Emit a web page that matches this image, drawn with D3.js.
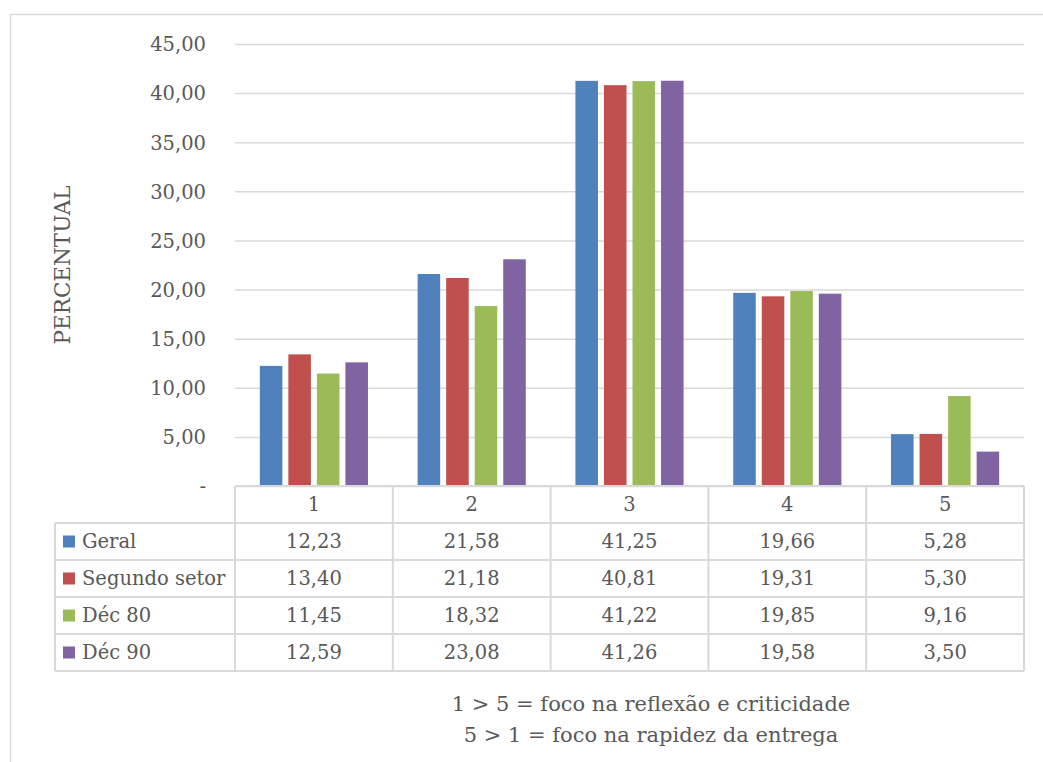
<!DOCTYPE html>
<html>
<head>
<meta charset="utf-8">
<script src="https://cdn.jsdelivr.net/npm/d3@7"></script>
<style>
  html, body { margin: 0; padding: 0; background: #fff; }
  svg { display: block; }
  text { font-family: "DejaVu Serif", "Liberation Serif", serif; fill: #595959; }
</style>
</head>
<body>
<svg id="chart" width="1043" height="762"></svg>
<script>
// Categories (scale 1..5) and percentages per group
const categories = ["1", "2", "3", "4", "5"];
const seriesNames = ["Geral", "Segundo setor", "Déc 80", "Déc 90"];
const geral        = [12.23, 21.58, 41.25, 19.66, 5.28];
const segundoSetor = [13.40, 21.18, 40.81, 19.31, 5.30];
const dec80        = [11.45, 18.32, 41.22, 19.85, 9.16];
const dec90        = [12.59, 23.08, 41.26, 19.58, 3.50];
const yTicks = [0, 5, 10, 15, 20, 25, 30, 35, 40, 45];
const notes = ["1 > 5 = foco na reflexão e criticidade", "5 > 1 = foco na rapidez da entrega"];
const colors = ["#4f81bd", "#c0504d", "#9bbb59", "#8064a2"];

const seriesValues = [geral, segundoSetor, dec80, dec90];
const fmt = v => v.toFixed(2).replace(".", ",");

const svg = d3.select("#chart");
const grid = "#d9d9d9";
const fs = 19.5;

// Outer chart frame
svg.append("rect").attr("x", 10.5).attr("y", 14.5).attr("width", 1060).attr("height", 800)
  .attr("fill", "none").attr("stroke", grid).attr("stroke-width", 1.5);

const plot = { left: 235, right: 1024, top: 44, bottom: 486 };

const x = d3.scaleBand().domain(categories).range([plot.left, plot.right]);
const xInner = d3.scaleBand().domain(d3.range(seriesNames.length))
  .range([0, x.bandwidth()]).paddingInner(0.21).paddingOuter(0.87);
const y = d3.scaleLinear().domain([0, 45]).range([plot.bottom, plot.top]);

// Gridlines and value ticks
const yAxis = d3.axisLeft(y).tickValues(yTicks)
  .tickSize(-(plot.right - plot.left))
  .tickFormat(d => d === 0 ? "-" : fmt(d));
const gy = svg.append("g").attr("transform", `translate(${plot.left},0)`).call(yAxis);
gy.select(".domain").remove();
gy.selectAll(".tick line").attr("stroke", grid).attr("stroke-width", 1.5);
gy.selectAll(".tick text").attr("x", -29).attr("font-size", fs).attr("fill", "#595959")
  .attr("font-family", "DejaVu Serif").attr("dy", "0.35em");

// Bars
categories.forEach((c, ci) => {
  seriesValues.forEach((vals, si) => {
    svg.append("rect")
      .attr("x", x(c) + xInner(si))
      .attr("y", y(vals[ci]))
      .attr("width", xInner.bandwidth())
      .attr("height", y(0) - y(vals[ci]))
      .attr("fill", colors[si]);
  });
});

// Data table
const rowH = 37;
const tableTop = plot.bottom;
const legendLeft = 55;
const tbl = svg.append("g");
const lineStyle = sel => sel.attr("stroke", grid).attr("stroke-width", 2).attr("fill", "none");

tbl.append("line").attr("x1", plot.left).attr("x2", plot.right).attr("y1", tableTop).attr("y2", tableTop).call(lineStyle);
for (let r = 1; r <= seriesNames.length + 1; r++) {
  tbl.append("line").attr("x1", legendLeft).attr("x2", plot.right)
    .attr("y1", tableTop + r * rowH).attr("y2", tableTop + r * rowH).call(lineStyle);
}
tbl.append("line").attr("x1", legendLeft).attr("x2", legendLeft)
  .attr("y1", tableTop + rowH).attr("y2", tableTop + rowH * 5).call(lineStyle);
categories.forEach(c => {
  tbl.append("line").attr("x1", x(c)).attr("x2", x(c))
    .attr("y1", tableTop).attr("y2", tableTop + rowH * 5).call(lineStyle);
});
tbl.append("line").attr("x1", plot.right).attr("x2", plot.right)
  .attr("y1", tableTop).attr("y2", tableTop + rowH * 5).call(lineStyle);

categories.forEach(c => {
  tbl.append("text").attr("x", x(c) + x.bandwidth() / 2).attr("y", tableTop + rowH / 2)
    .attr("dy", "0.35em").attr("text-anchor", "middle").attr("font-size", fs).text(c);
});

seriesNames.forEach((name, si) => {
  const cy = tableTop + rowH * (si + 1) + rowH / 2;
  tbl.append("rect").attr("x", legendLeft + 8).attr("y", cy - 6).attr("width", 12).attr("height", 12)
    .attr("fill", colors[si]);
  tbl.append("text").attr("x", legendLeft + 27).attr("y", cy).attr("dy", "0.35em")
    .attr("font-size", fs).text(name);
  categories.forEach((c, ci) => {
    tbl.append("text").attr("x", x(c) + x.bandwidth() / 2).attr("y", cy).attr("dy", "0.35em")
      .attr("text-anchor", "middle").attr("font-size", fs).text(fmt(seriesValues[si][ci]));
  });
});

// Axis title
svg.append("text").attr("transform", "translate(62,265) rotate(-90)")
  .attr("text-anchor", "middle").attr("dy", "0.35em").attr("font-size", 21.5).text("PERCENTUAL");

// Notes below the table
notes.forEach((t, i) => {
  svg.append("text").attr("x", 651).attr("y", 704 + i * 31).attr("dy", "0.35em")
    .attr("text-anchor", "middle").attr("font-size", 21).text(t);
});
</script>
</body>
</html>
